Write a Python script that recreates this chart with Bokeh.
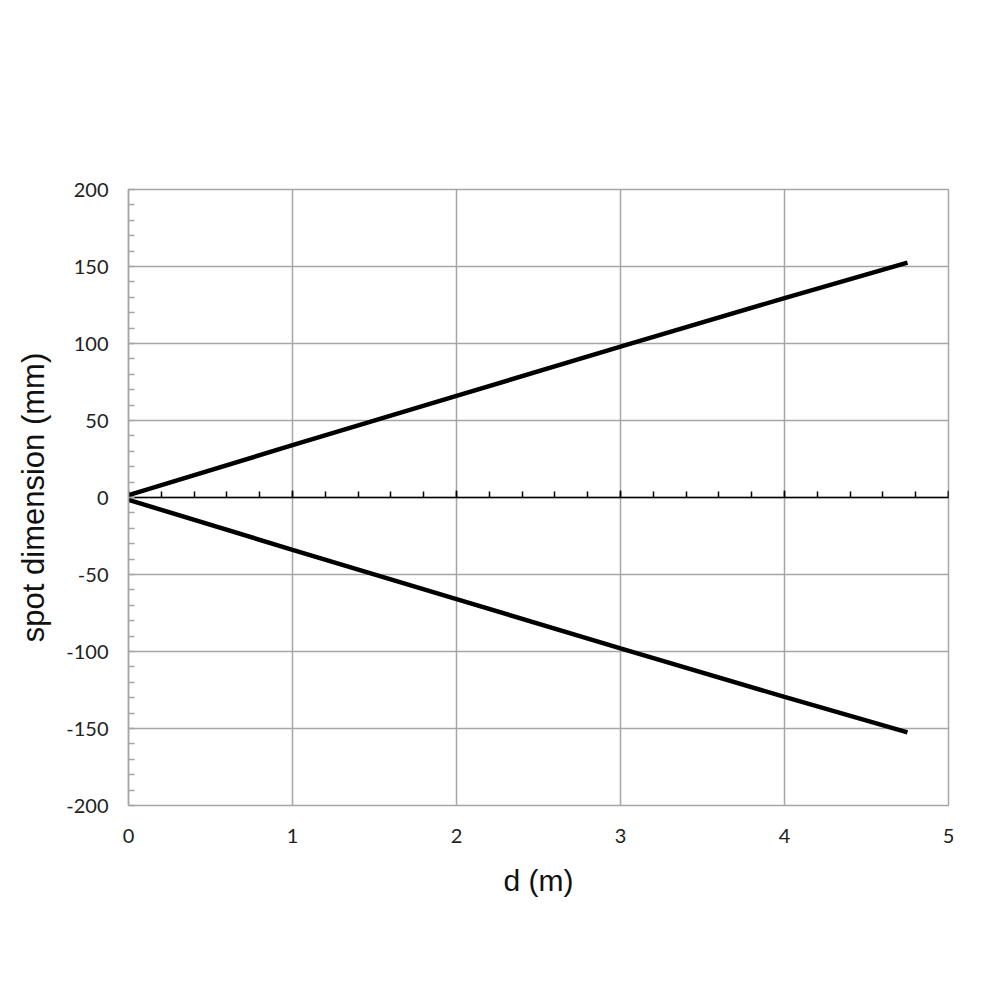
from bokeh.plotting import figure
from bokeh.models import LinearAxis, SingleIntervalTicker, Range1d
from bokeh.embed import file_html
from bokeh.resources import INLINE

# data
d_m = [0, 1, 2, 3, 4, 4.75]
upper_mm = [1.5, 34, 66, 98, 129.5, 152.5]
lower_mm = [-1.5, -34, -66, -98, -129.5, -152.5]
y_ticks = [-200, -150, -100, -50, 0, 50, 100, 150, 200]
x_title = "d (m)"
y_title = "spot dimension (mm)"

GRID = "#a6a6a6"
TICKFONT = "Lato"

p = figure(width=984, height=984, output_backend="svg", toolbar_location=None,
           x_range=Range1d(0, 5), y_range=Range1d(-200, 200),
           min_border_left=128, min_border_right=36, min_border_top=189, min_border_bottom=179)
p.outline_line_color = GRID
p.outline_line_width = 1.5
p.background_fill_color = "white"
p.border_fill_color = "white"

# main axes
p.xaxis.ticker = SingleIntervalTicker(interval=1, num_minor_ticks=0)
p.yaxis.ticker = SingleIntervalTicker(interval=50, num_minor_ticks=5)
p.xgrid.ticker = p.xaxis.ticker
p.ygrid.ticker = p.yaxis.ticker
for g in (p.xgrid, p.ygrid):
    g.grid_line_color = GRID
    g.grid_line_width = 1.5

xa = p.xaxis[0]
xa.axis_line_color = None
xa.major_tick_in = 0
xa.major_tick_out = 0
xa.minor_tick_line_color = None
xa.major_label_standoff = 23
xa.major_label_text_font = TICKFONT
xa.major_label_text_font_size = "20px"
xa.major_label_text_color = "#222222"
xa.axis_label = x_title
xa.axis_label_text_font = "Liberation Sans"
xa.axis_label_text_font_style = "normal"
xa.axis_label_text_font_size = "30px"
xa.axis_label_text_color = "#111111"
xa.axis_label_standoff = 18

ya = p.yaxis[0]
ya.axis_line_color = GRID
ya.axis_line_width = 1.5
ya.major_tick_in = 0
ya.major_tick_out = 0
ya.minor_tick_in = 6
ya.minor_tick_out = 0
ya.minor_tick_line_color = GRID
ya.minor_tick_line_width = 1.5
ya.major_label_standoff = 20
ya.major_label_text_font = TICKFONT
ya.major_label_text_font_size = "20px"
ya.major_label_text_color = "#222222"
ya.major_label_overrides = {t: str(t) for t in y_ticks}
ya.axis_label = y_title
ya.axis_label_text_font = "Liberation Sans"
ya.axis_label_text_font_style = "normal"
ya.axis_label_text_font_size = "31px"
ya.axis_label_text_color = "#111111"
ya.axis_label_standoff = 12

# zero line axis with upward ticks
zero_axis = LinearAxis(fixed_location=0,
                       ticker=SingleIntervalTicker(interval=1, num_minor_ticks=5))
zero_axis.axis_line_color = "black"
zero_axis.axis_line_width = 1.5
zero_axis.major_tick_out = 7
zero_axis.major_tick_in = 0
zero_axis.minor_tick_out = 6
zero_axis.minor_tick_in = 0
zero_axis.major_tick_line_color = "black"
zero_axis.minor_tick_line_color = "black"
zero_axis.major_tick_line_width = 1.5
zero_axis.minor_tick_line_width = 1.5
zero_axis.major_label_text_color = None
zero_axis.major_label_text_font_size = "1px"
p.add_layout(zero_axis, "above")

p.line(d_m, upper_mm, line_color="black", line_width=4.5)
p.line(d_m, lower_mm, line_color="black", line_width=4.5)

open("out.html", "w").write(file_html(p, INLINE))
